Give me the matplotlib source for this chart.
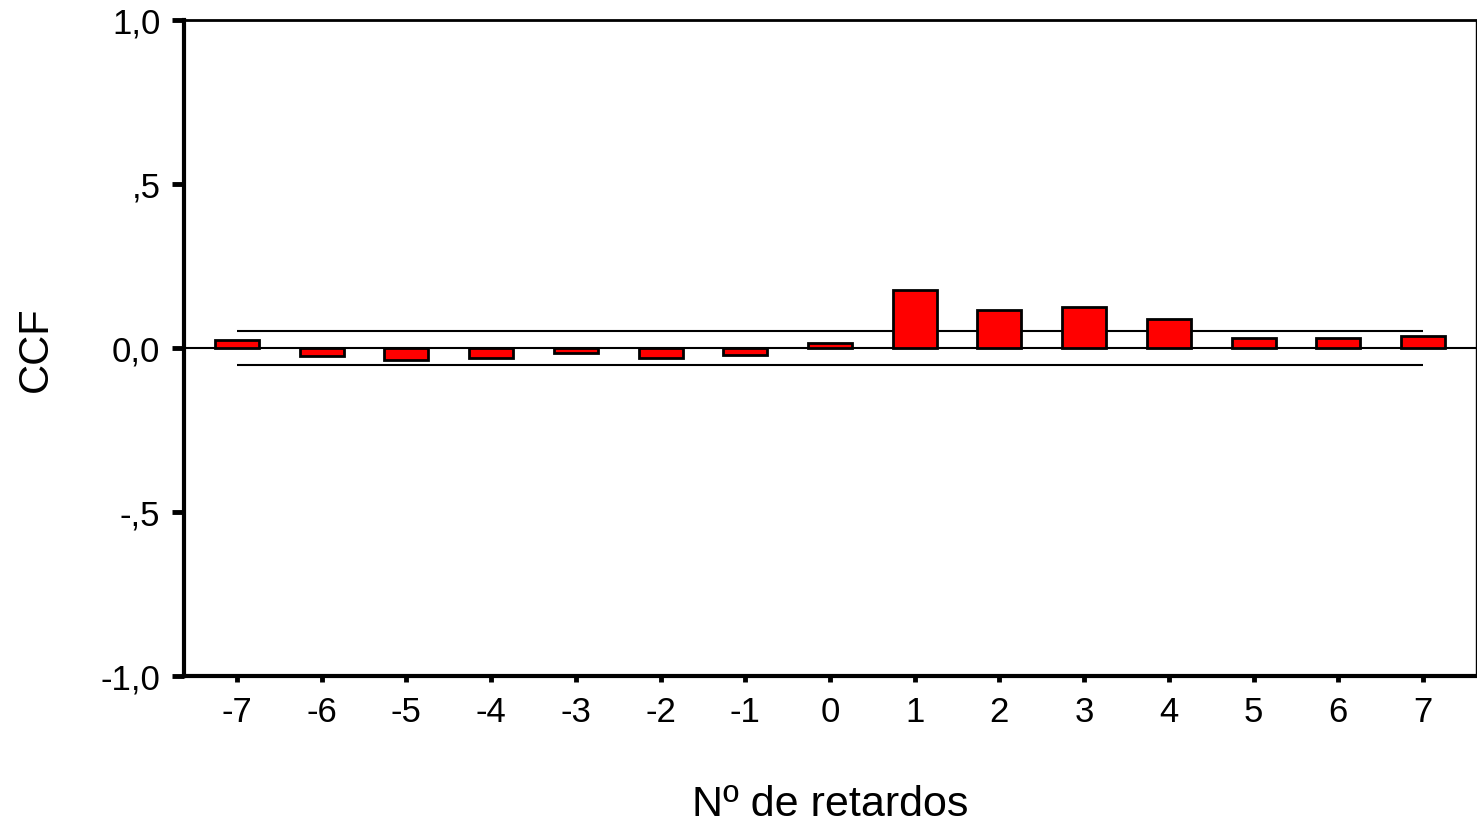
import numpy as np
import matplotlib.pyplot as plt

plt.rcParams['font.family'] = ['Liberation Sans', 'DejaVu Sans']

lags = np.arange(-7, 8)
ccf = [0.023, -0.023, -0.038, -0.030, -0.015, -0.030, -0.022, 0.015,
       0.177, 0.117, 0.125, 0.089, 0.030, 0.030, 0.037]
conf = 0.053
ytick_vals = [-1.0, -0.5, 0.0, 0.5, 1.0]
ytick_labels = ['-1,0', '-,5', '0,0', ',5', '1,0']

fig = plt.figure(figsize=(14.77, 8.29), dpi=100)
ax = fig.add_axes([0.1246, 0.1834, 0.8747, 0.7913])

ax.bar(lags, ccf, width=0.52, color='#ff0000', edgecolor='black', linewidth=2, zorder=3)
ax.axhline(0, color='black', linewidth=1.5, zorder=2)
ax.hlines([conf, -conf], -7, 7, color='black', linewidth=1.5, zorder=2)

ax.set_xlim(-7.625, 7.625)
ax.set_ylim(-1, 1)
ax.set_xticks(lags)
ax.set_xticklabels([str(l) for l in lags])
ax.set_yticks(ytick_vals)
ax.set_yticklabels(ytick_labels)
ax.tick_params(axis='both', direction='out', length=4, width=3.5, labelsize=25, pad=10)
ax.tick_params(axis='y', length=9, pad=8)

ax.spines['left'].set_linewidth(3)
ax.spines['bottom'].set_linewidth(3)
ax.spines['top'].set_linewidth(2)
ax.spines['right'].set_linewidth(1)

ax.set_ylabel('CCF', fontsize=30, va='center')
ax.yaxis.set_label_coords(-0.115, 0.5)
ax.set_xlabel('Nº de retardos', fontsize=31, va='center')
ax.xaxis.set_label_coords(0.5, -0.195)

plt.savefig('out.png', dpi=100)
